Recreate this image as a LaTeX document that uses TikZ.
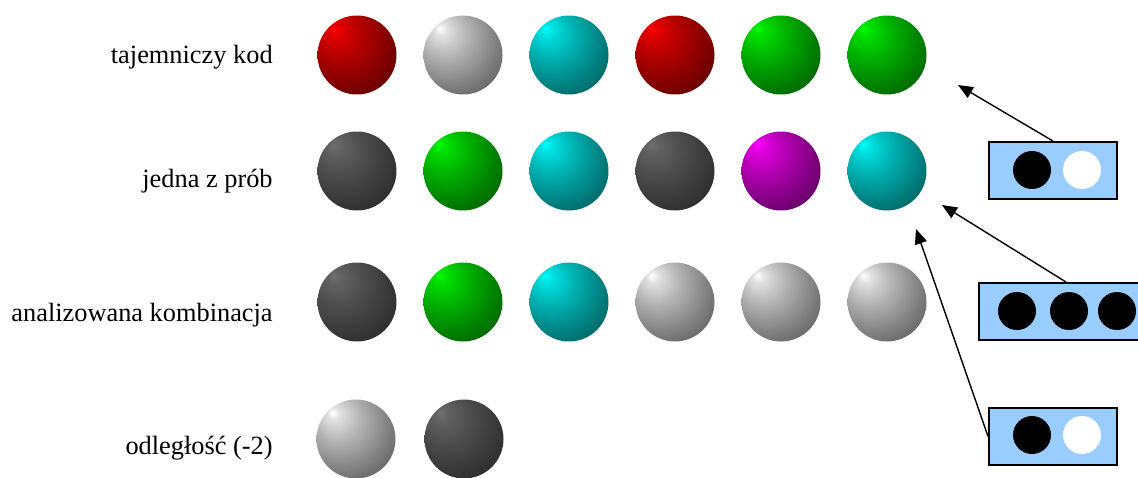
\documentclass[tikz,border=0pt]{standalone}
\usepackage{fontspec}
\setmainfont{Liberation Serif}
\usetikzlibrary{arrows.meta}
\definecolor{pinblue}{RGB}{153,204,255}
\definecolor{silver}{RGB}{255,255,255}
\definecolor{darkball}{RGB}{112,112,112}
\colorlet{ballc}{red}
\pgfdeclareradialshading[ballc]{sphere}{\pgfqpoint{-15bp}{17bp}}{%
  color(0bp)=(ballc); color(4bp)=(ballc!88!black);
  color(15bp)=(ballc!70!black); color(28bp)=(ballc!52!black);
  color(42bp)=(ballc!34!black); color(55bp)=(ballc!20!black);
  color(70bp)=(black)}

\begin{document}
\begin{tikzpicture}[x=0.02cm, y=-0.02cm,
  label/.style={anchor=base east, inner sep=0pt, font=\fontsize{15}{17}\selectfont},
  ball/.style={circle, minimum size=1.58cm, inner sep=0pt,
    /utils/exec={\colorlet{ballc}{#1}}, shading=sphere},
  pinbox/.style={rectangle, draw, line width=1.1pt, fill=pinblue,
    minimum height=1.14cm, inner sep=0pt},
  pin/.style={circle, minimum size=0.76cm, inner sep=0pt, fill=#1},
  arrow/.style={-{Triangle[length=8.5pt, width=7pt]}, line width=0.8pt}
]
\useasboundingbox (0,0) rectangle (1138,477);

% row labels
\node[label] (L1) at (273,63) {tajemniczy kod};
\node[label] (L2) at (273,187) {jedna z prób};
\node[label] (L3) at (273,321) {analizowana kombinacja};
\node[label] (L4) at (273,454) {odległość (-2)};

% secret code
\node[ball=red] (A1) at (357,55) {};
\node[ball=silver] (A2) at (463,55) {};
\node[ball=cyan] (A3) at (569,55) {};
\node[ball=red] (A4) at (675,55) {};
\node[ball=green] (A5) at (781,55) {};
\node[ball=green] (A6) at (887,55) {};

% one guess
\node[ball=darkball] (B1) at (357,171) {};
\node[ball=green] (B2) at (463,171) {};
\node[ball=cyan] (B3) at (569,171) {};
\node[ball=darkball] (B4) at (675,171) {};
\node[ball=magenta] (B5) at (781,171) {};
\node[ball=cyan] (B6) at (887,171) {};

% analysed combination
\node[ball=darkball] (C1) at (357,302) {};
\node[ball=green] (C2) at (463,302) {};
\node[ball=cyan] (C3) at (569,302) {};
\node[ball=silver] (C4) at (675,302) {};
\node[ball=silver] (C5) at (781,302) {};
\node[ball=silver] (C6) at (887,302) {};

% distance
\node[ball=silver] (D1) at (356,439) {};
\node[ball=darkball] (D2) at (464,439) {};

% answer boxes
\node[pinbox, minimum width=2.56cm] (P1) at (1053,170.5) {};
\node[pin=black] at (1032,170) {};
\node[pin=white] at (1082,170) {};

\node[pinbox, minimum width=3.5cm] (P2) at (1066,311.5) {};
\node[pin=black] at (1017,311) {};
\node[pin=black] at (1069,311) {};
\node[pin=black] at (1117,311) {};

\node[pinbox, minimum width=2.56cm] (P3) at (1053,436.5) {};
\node[pin=black] at (1032,435) {};
\node[pin=white] at (1082,435) {};

\coordinate (T1) at (958,85);
\coordinate (T2) at (942,205);
\coordinate (T3) at (916,229);
\draw[arrow] (P1.north) -- (T1);
\draw[arrow] (P2.north) -- (T2);
\draw[arrow] (P3.west) -- (T3);
\end{tikzpicture}
\end{document}
